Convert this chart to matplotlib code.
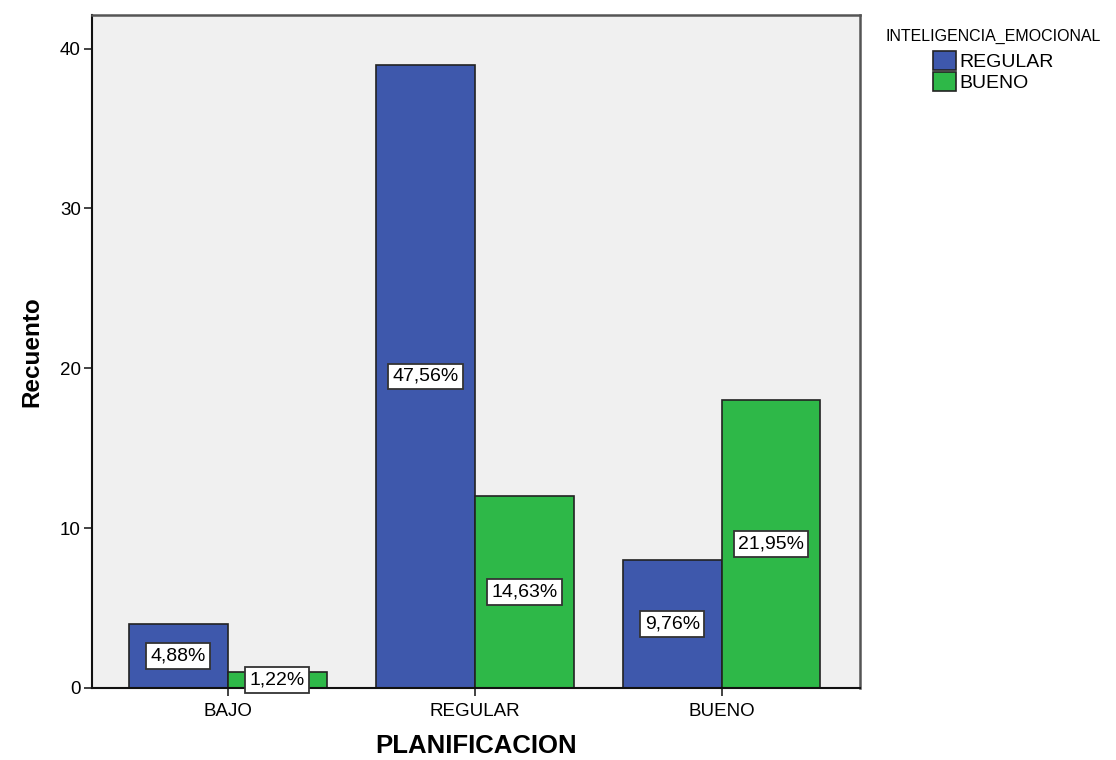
import matplotlib.pyplot as plt
import numpy as np

plt.rcParams['font.family'] = ['Liberation Sans', 'DejaVu Sans']

categorias = ['BAJO', 'REGULAR', 'BUENO']
series = ['REGULAR', 'BUENO']
regular = [4, 39, 8]
bueno = [1, 12, 18]
pct_regular = ['4,88%', '47,56%', '9,76%']
pct_bueno = ['1,22%', '14,63%', '21,95%']
colores = ['#3e58ac', '#2eb848']

fig = plt.figure(figsize=(11.16, 7.6), dpi=100)
ax = fig.add_axes([92 / 1116, 1 - 688 / 760, (860 - 92) / 1116, (688 - 15) / 760])
ax.set_facecolor('#f0f0f0')

x = np.arange(len(categorias))
w = 0.4
b1 = ax.bar(x - w / 2, regular, w, color=colores[0], edgecolor='#222222', linewidth=1.2, label=series[0])
b2 = ax.bar(x + w / 2, bueno, w, color=colores[1], edgecolor='#222222', linewidth=1.2, label=series[1])

caja = dict(boxstyle='square,pad=0.22', facecolor='white', edgecolor='#333333', linewidth=1.3)
for xi, v, t in zip(x - w / 2, regular, pct_regular):
    ax.text(xi, v / 2, t, ha='center', va='center', fontsize=14, bbox=caja, zorder=5)
for xi, v, t in zip(x + w / 2, bueno, pct_bueno):
    ax.text(xi, v / 2, t, ha='center', va='center', fontsize=14, bbox=caja, zorder=5)

ax.set_xlim(-0.55, 2.56)
ax.set_ylim(0, 42.1)
ax.set_yticks([0, 10, 20, 30, 40])
ax.set_xticks(x)
ax.set_xticklabels(categorias)
ax.tick_params(axis='both', labelsize=13.5, length=6, width=1.2, color='#222222')
ax.tick_params(axis='x', pad=5)
ax.tick_params(axis='y', pad=2)

for s in ['left', 'bottom']:
    ax.spines[s].set_color('#111111')
    ax.spines[s].set_linewidth(1.5)
for s in ['top', 'right']:
    ax.spines[s].set_color('#555555')
    ax.spines[s].set_linewidth(1.8)

ax.set_xlabel('PLANIFICACION', fontsize=18.5, fontweight='bold', labelpad=10)
ax.set_ylabel('Recuento', fontsize=17.5, fontweight='bold', labelpad=12)

leg = fig.legend(handles=[b1, b2], labels=series, title='INTELIGENCIA_EMOCIONAL',
                 loc='upper left', bbox_to_anchor=(872 / 1116, 1 - 15 / 760),
                 frameon=False, fontsize=14, title_fontsize=11.5,
                 handlelength=1.2, handleheight=1.15, handletextpad=0.15,
                 labelspacing=0.05, borderpad=0.2)
leg.get_title().set_ha('center')
leg._legend_box.sep = 5

fig.savefig('out.png', dpi=100)
